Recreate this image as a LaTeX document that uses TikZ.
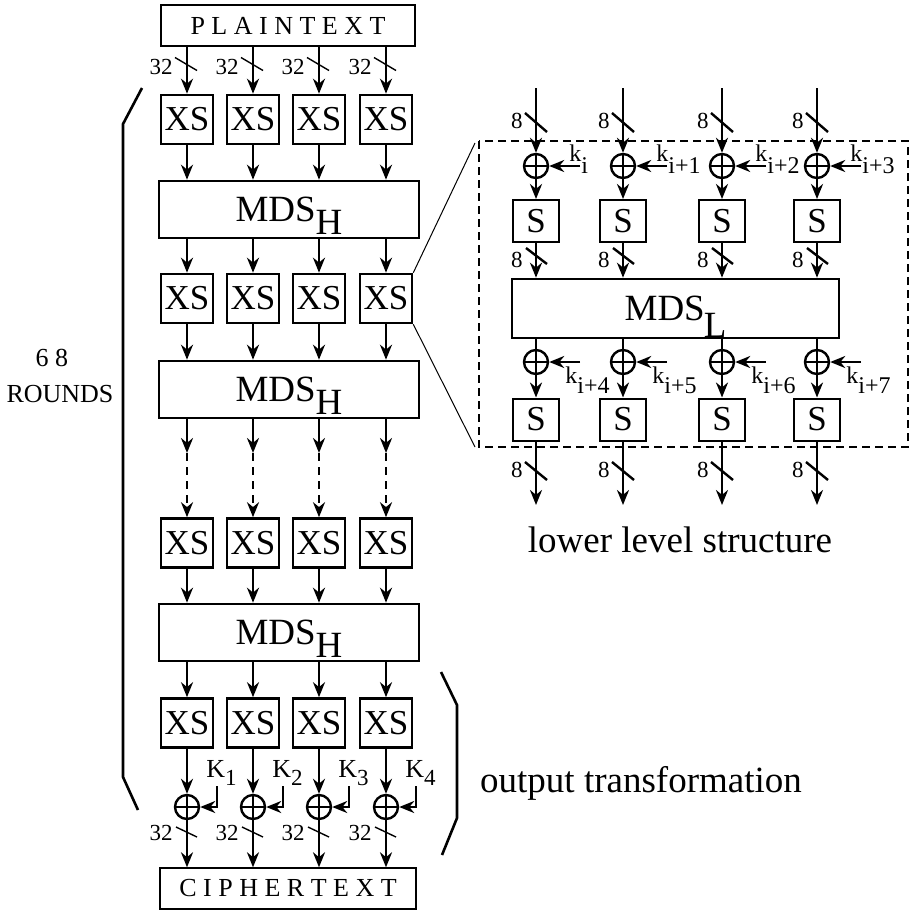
\documentclass[tikz,border=0pt]{standalone}
\usepackage{fontspec}
\setmainfont{Liberation Serif}
\usetikzlibrary{arrows.meta}

% lowered index at full size
\newcommand{\dn}[2][-6.5pt]{\raisebox{#1}{#2}}

\tikzset{
  flow/.style={line width=1.3pt, -{Stealth[length=7.5pt,width=6pt]}},
  wire/.style={line width=1.3pt},
  xsbox/.style={draw, line width=1.3pt, minimum width=26pt, minimum height=24.5pt, inner sep=0pt, font=\fontsize{17.5}{18}\selectfont},
  sbox/.style={draw, line width=1pt, minimum width=23pt, minimum height=21pt, inner sep=0pt, font=\fontsize{17.5}{18}\selectfont},
  mdsbox/.style={draw, line width=1.3pt, minimum width=130pt, minimum height=28.5pt, inner sep=0pt, text depth=0pt, font=\fontsize{18.5}{19}\selectfont},
  textbox/.style={draw, line width=0.7pt, minimum width=127pt, minimum height=20.5pt, inner sep=0pt, font=\fontsize{13}{13}\selectfont},
  xorgate/.style={circle, draw, line width=1.2pt, minimum size=12pt, inner sep=0pt,
    path picture={\draw[line width=1.2pt] (path picture bounding box.north) -- (path picture bounding box.south)
      (path picture bounding box.west) -- (path picture bounding box.east);}},
  buswidth/.style={anchor=east, inner sep=0pt, font=\fontsize{11.5}{12}\selectfont},
  keyname/.style={anchor=base west, inner sep=0pt},
}

\begin{document}
\begin{tikzpicture}[x=0.5pt,y=-0.5pt]
    \useasboundingbox (0,0) rectangle (915,911);

    % high level structure
    \node[textbox] (plain) at (288,25.5) {P L A I N T E X T};
    \node[mdsbox] (mds1) at (289,209.5) {MDS\dn{H}};
    \node[mdsbox] (mds2) at (289,389.5) {MDS\dn{H}};
    \node[mdsbox] (mds3) at (289,632.5) {MDS\dn{H}};
    \node[textbox, minimum width=128pt] (cipher) at (288,888.5) {C I P H E R T E X T};

    \foreach \c/\x in {1/187, 2/253, 3/319, 4/386} {
        \node[xsbox] (xs-1-\c) at (\x,119.5) {XS};
        \node[xsbox] (xs-2-\c) at (\x,298.5) {XS};
        \node[xsbox] (xs-3-\c) at (\x,543) {XS};
        \node[xsbox] (xs-4-\c) at (\x,723) {XS};
        \node[xorgate] (xor\c) at (\x,807) {};
        \coordinate (gap\c) at (\x,453);
        \coordinate (key\c) at (\x+30,786);

        \draw[flow] (plain.south -| xs-1-\c) -- (xs-1-\c);
        \draw[flow] (xs-1-\c) -- (xs-1-\c |- mds1.north);
        \draw[flow] (mds1.south -| xs-2-\c) -- (xs-2-\c);
        \draw[flow] (xs-2-\c) -- (xs-2-\c |- mds2.north);
        \draw[flow] (mds2.south -| gap\c) -- (gap\c);
        \draw[flow, dash pattern=on 4pt off 3pt] (gap\c) -- (xs-3-\c);
        \draw[flow] (xs-3-\c) -- (xs-3-\c |- mds3.north);
        \draw[flow] (mds3.south -| xs-4-\c) -- (xs-4-\c);
        \draw[flow] (xs-4-\c) -- (xor\c);
        \draw[flow] (xor\c) -- (xor\c |- cipher.north);
        \draw[flow] (key\c) |- (xor\c);

        \node[keyname, font=\fontsize{13}{13}\selectfont] (kname\c) at (\x+19,777)
            {K\dn[-4pt]{\fontsize{11.5}{12}\selectfont\c}};

        % bus widths
        \draw[line width=0.7pt] (\x-12,57.5) -- ++(22,13);
        \node[buswidth] (win\c) at (\x-14,67) {32};
        \draw[line width=0.7pt] (\x-11,827) -- ++(21,10);
        \node[buswidth] (wout\c) at (\x-14,833) {32};
    }

    % round brackets
    \draw[line width=1.3pt] (142,88) -- (123,124) -- (123,777) -- (138,810);
    \draw[line width=1.3pt] (441,672) -- (457,705) -- (457,818) -- (442,855);
    \node[font=\fontsize{13}{13}\selectfont] (nr) at (52,358) {6 8};
    \node[font=\fontsize{13}{13}\selectfont] (rounds) at (60,394) {ROUNDS};
    \node[font=\fontsize{18.5}{19}\selectfont, anchor=base] (outtr) at (641,792) {output transformation};

    % lower level structure
    \draw[line width=0.6pt, dash pattern=on 4pt off 2.5pt] (479,141) rectangle (908,447);
    \coordinate (zt) at (475,143);
    \coordinate (zb) at (475,447);
    \draw[line width=0.5pt] (xs-2-4.north east) -- (zt);
    \draw[line width=0.5pt] (xs-2-4.south east) -- (zb);

    \node[mdsbox, minimum width=163.5pt, minimum height=29.5pt] (mdsl) at (675.5,308.5) {MDS\kern-0.5pt\dn[-8.5pt]{L}};

    \foreach \c/\x/\ka/\kb in {1/536/i/i+4, 2/623/i+1/i+5, 3/722/i+2/i+6, 4/817/i+3/i+7} {
        \coordinate (in\c) at (\x,88);
        \node[xorgate] (ka\c) at (\x,166) {};
        \node[sbox] (sa\c) at (\x,221) {S};
        \node[xorgate] (kb\c) at (\x,362) {};
        \node[sbox] (sb\c) at (\x,419.5) {S};
        \coordinate (out\c) at (\x,505);
        \coordinate (kina\c) at (\x+44,166);
        \coordinate (kinb\c) at (\x+44,362);

        \draw[flow] (in\c) -- (ka\c);
        \draw[flow] (ka\c) -- (sa\c);
        \draw[flow] (sa\c) -- (sa\c |- mdsl.north);
        \draw[wire] (mdsl.south -| kb\c) -- (kb\c);
        \draw[flow] (kb\c) -- (sb\c);
        \draw[flow] (sb\c) -- (out\c);
        \draw[flow] (kina\c) -- (ka\c);
        \draw[flow] (kinb\c) -- (kb\c);

        \node[keyname, font=\fontsize{12}{12}\selectfont] (kta\c) at (\x+33,161) {k\dn[-6pt]{\ka}};
        \node[keyname, font=\fontsize{12}{12}\selectfont] (ktb\c) at (\x+29,383) {k\dn[-5pt]{\kb}};

        % bus widths
        \draw[line width=1.2pt] (\x-11,113) -- ++(22,19);
        \node[buswidth] (wa\c) at (\x-13,121) {8};
        \draw[line width=1.2pt] (\x-10,248) -- ++(21,16);
        \node[buswidth] (wb\c) at (\x-13,260) {8};
        \draw[line width=1.2pt] (\x-11,462) -- ++(22,18);
        \node[buswidth] (wc\c) at (\x-13,470) {8};
    }
    \node[font=\fontsize{18.5}{19}\selectfont] (lls) at (680,540) {lower level structure};
\end{tikzpicture}
\end{document}
